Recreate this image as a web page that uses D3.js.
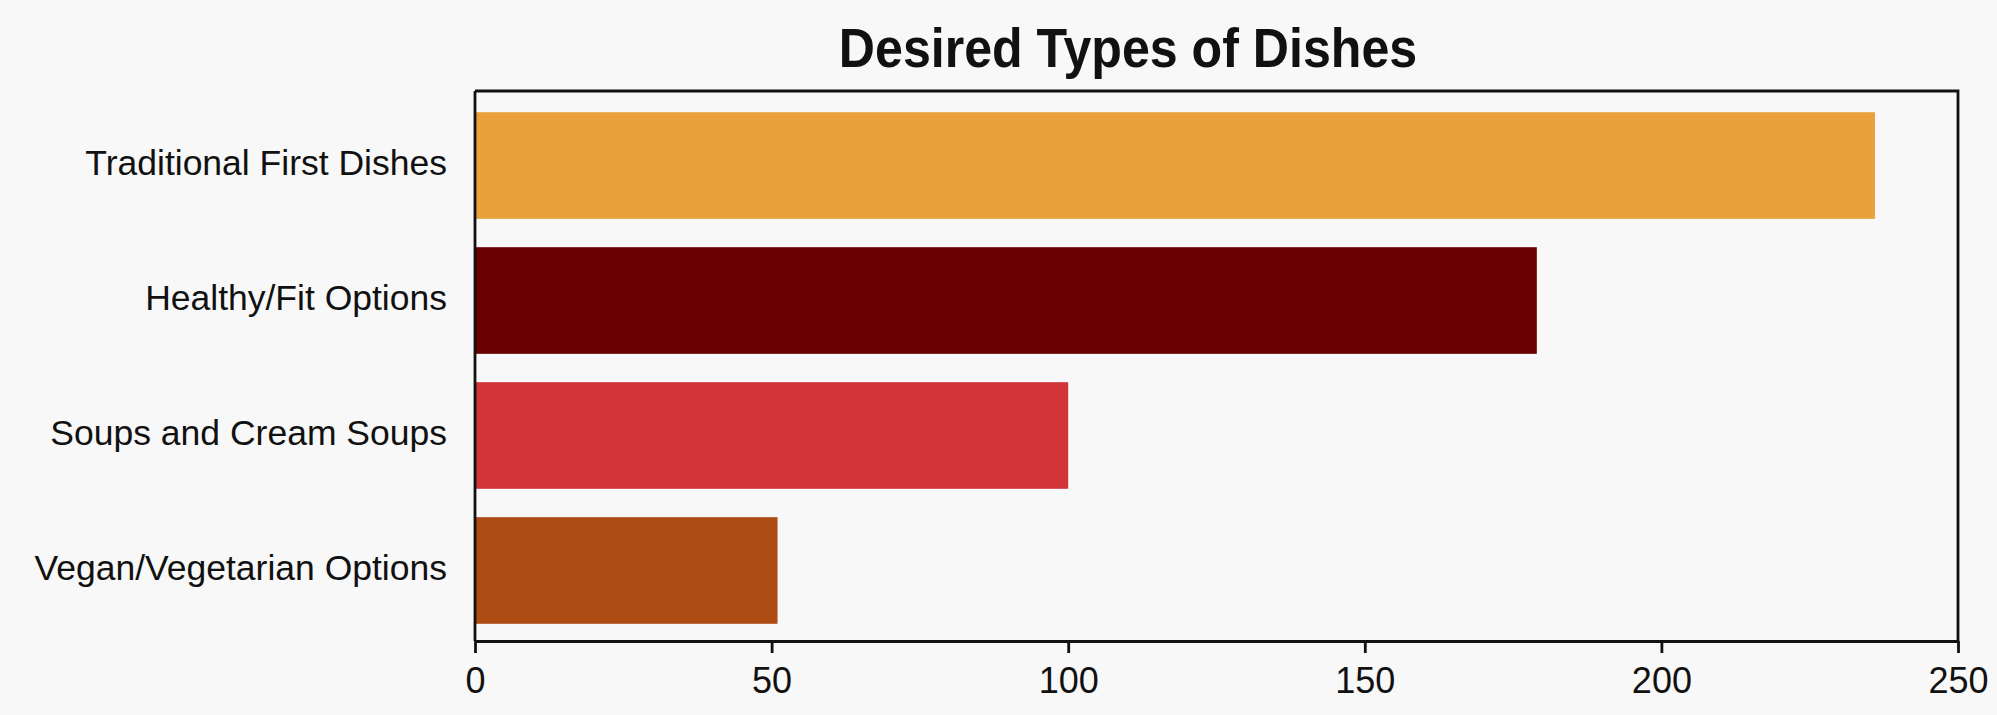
<!DOCTYPE html>
<html>
<head>
<meta charset="utf-8">
<script src="https://cdn.jsdelivr.net/npm/d3@7"></script>
<style>
  html, body { margin: 0; padding: 0; background: #f8f8f8; }
  svg { display: block; }
</style>
</head>
<body>
<svg id="chart" width="1997" height="715"></svg>
<script>
// Survey answers: which dishes people would like to see
const categories = [
  "Traditional First Dishes",
  "Healthy/Fit Options",
  "Soups and Cream Soups",
  "Vegan/Vegetarian Options"
];
const counts = [236, 179, 100, 51];
const barColors = ["#e9a13b", "#6b0000", "#d2343a", "#ae4c16"];
const xTicks = [0, 50, 100, 150, 200, 250];
const titleText = "Desired Types of Dishes";

const rows = categories.map((c, i) => ({ name: c, value: counts[i], color: barColors[i] }));

const svg = d3.select("#chart");
const W = 1997, H = 715;
const plot = { left: 475, right: 1958, top: 91, bottom: 641 };

svg.append("rect").attr("width", W).attr("height", H).attr("fill", "#f8f8f8");

const x = d3.scaleLinear().domain([0, 250]).range([plot.left, plot.right]);
const y = d3.scaleBand()
  .domain(categories)
  .range([plot.top + 5, plot.bottom - 1])
  .paddingInner(0.21)
  .paddingOuter(0.12);

// bars
svg.append("g")
  .selectAll("rect")
  .data(rows)
  .join("rect")
  .attr("x", x(0))
  .attr("y", d => y(d.name))
  .attr("width", d => x(d.value) - x(0))
  .attr("height", y.bandwidth())
  .attr("fill", d => d.color);

// frame: top and right edges
svg.append("path")
  .attr("d", `M${plot.left},${plot.top}H${plot.right}V${plot.bottom}`)
  .attr("fill", "none")
  .attr("stroke", "#111")
  .attr("stroke-width", 2.8);

// x axis
const xAxis = svg.append("g")
  .attr("transform", `translate(0,${plot.bottom})`)
  .call(d3.axisBottom(x).tickValues(xTicks).tickSize(12).tickPadding(14).tickSizeOuter(0));
xAxis.select(".domain").attr("stroke", "#111").attr("stroke-width", 2.8);
xAxis.selectAll(".tick line").attr("stroke", "#111").attr("stroke-width", 2.8);
xAxis.selectAll(".tick text")
  .attr("fill", "#111")
  .style("font-family", "'Liberation Sans', Arial, sans-serif")
  .style("font-size", "36px");

// y axis
const yAxis = svg.append("g")
  .attr("transform", `translate(${plot.left},0)`)
  .call(d3.axisLeft(y).tickSize(0).tickPadding(28).tickSizeOuter(0));
yAxis.select(".domain")
  .attr("d", `M0,${plot.top}V${plot.bottom}`)
  .attr("stroke", "#111").attr("stroke-width", 2.8);
yAxis.selectAll(".tick text")
  .attr("fill", "#111")
  .attr("dy", "0.28em")
  .style("font-family", "'Liberation Sans', Arial, sans-serif")
  .style("font-size", "35.5px");

// title
svg.append("text")
  .attr("transform", "translate(1128,67) scale(0.895,1)")
  .attr("text-anchor", "middle")
  .attr("fill", "#111")
  .style("font-family", "'Liberation Sans', Arial, sans-serif")
  .style("font-weight", "bold")
  .style("font-size", "56px")
  .text(titleText);
</script>
</body>
</html>
